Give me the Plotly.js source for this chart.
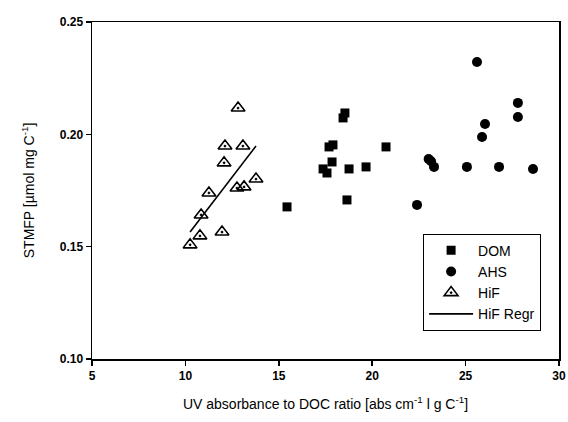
<!DOCTYPE html>
<html><head><meta charset="utf-8">
<script src="https://cdn.plot.ly/plotly-3.0.1.min.js"></script>
<style>html,body{margin:0;padding:0;background:#fff}#chart{width:568px;height:422px}</style>
</head><body><div id="chart"></div>
<script>
const domX = [15.44, 17.37, 17.58, 17.85, 17.69, 17.90, 18.54, 18.44, 18.76, 18.65, 19.67, 20.74];
const domY = [0.1677, 0.1846, 0.1828, 0.1877, 0.1944, 0.1953, 0.2095, 0.2073, 0.1846, 0.1708, 0.1855, 0.1944];
const ahsX = [22.40, 23.02, 23.15, 23.31, 25.07, 25.61, 25.88, 26.04, 26.79, 27.80, 27.80, 28.61];
const ahsY = [0.1686, 0.1890, 0.1880, 0.1855, 0.1855, 0.2322, 0.1988, 0.2046, 0.1855, 0.2140, 0.2077, 0.1846];
const hifX = [12.82, 12.12, 13.08, 12.07, 11.26, 12.76, 13.14, 13.78, 10.84, 10.78, 11.96, 10.25];
const hifY = [0.2117, 0.1948, 0.1948, 0.1873, 0.1739, 0.1761, 0.1766, 0.1801, 0.1641, 0.1548, 0.1565, 0.1508];
const regrX = [10.25, 13.78];
const regrY = [0.1565, 0.1948];
const xTicks = [5, 10, 15, 20, 25, 30];
const yTicks = [0.10, 0.15, 0.20, 0.25];

const traces = [
  {x: domX, y: domY, name: 'DOM', type: 'scatter', mode: 'markers',
   marker: {symbol: 'square', size: 9, color: '#000'}},
  {x: ahsX, y: ahsY, name: 'AHS', type: 'scatter', mode: 'markers',
   marker: {symbol: 'circle', size: 10, color: '#000'}},
  {x: hifX, y: hifY, name: 'HiF', type: 'scatter', mode: 'markers',
   marker: {symbol: 'triangle-up-open-dot', size: 12, color: '#000', line: {width: 1.6, color: '#000'}}},
  {x: regrX, y: regrY, name: 'HiF Regr', type: 'scatter', mode: 'lines',
   line: {color: '#000', width: 1.6}}
];

const fam = 'Liberation Sans, Arial, sans-serif';
const axisFont = {family: fam, size: 12, color: '#000', weight: 'bold'};
const layout = {
  width: 568, height: 422,
  margin: {l: 92, r: 9, t: 22, b: 63},
  paper_bgcolor: '#fff', plot_bgcolor: '#fff',
  font: {family: fam, size: 13, color: '#000'},
  showlegend: true,
  legend: {x: 0.709, y: 0.372, xanchor: 'left', yanchor: 'top',
    bgcolor: '#fff', bordercolor: '#000', borderwidth: 1,
    font: {family: fam, size: 14, color: '#000'},
    tracegroupgap: 0, itemwidth: 44},
  xaxis: {range: [5, 30], tickvals: xTicks, ticktext: xTicks.map(String),
    ticks: 'outside', ticklen: 5, tickwidth: 1.5, tickcolor: '#000',
    showline: true, linecolor: '#000', linewidth: 1.5, mirror: true,
    showgrid: false, zeroline: false, tickfont: axisFont,
    title: {text: 'UV absorbance to DOC ratio [abs cm<sup>-1</sup> l g C<sup>-1</sup>]', standoff: 17,
      font: {family: fam, size: 14, color: '#000'}}},
  yaxis: {range: [0.10, 0.25], tickvals: yTicks, ticktext: yTicks.map(v => v.toFixed(2)),
    ticks: 'outside', ticklen: 5, tickwidth: 1.5, tickcolor: '#000',
    showline: true, linecolor: '#000', linewidth: 1.5, mirror: true,
    showgrid: false, zeroline: false, tickfont: axisFont,
    title: {text: 'STMFP [µmol mg C<sup>-1</sup>]', standoff: 22,
      font: {family: fam, size: 14, color: '#000'}}}
};
Plotly.newPlot('chart', traces, layout, {displayModeBar: false, staticPlot: true});
</script></body></html>
